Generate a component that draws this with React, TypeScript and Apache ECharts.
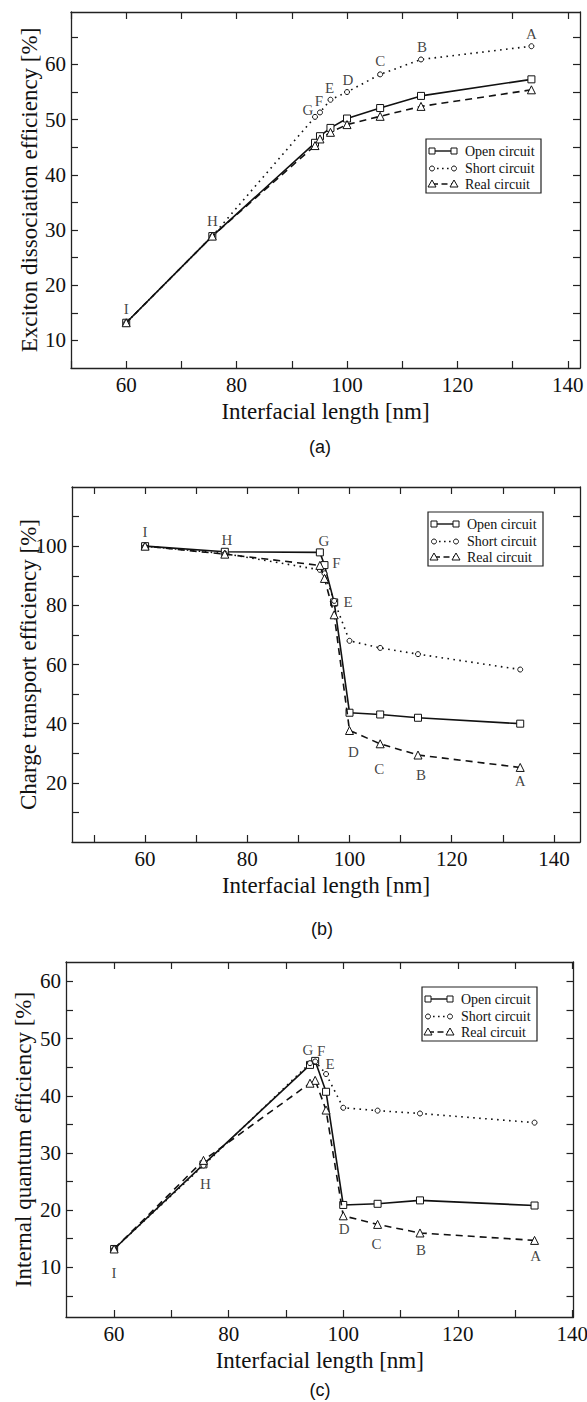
import React, { useEffect, useRef } from "react";
import * as echarts from "echarts";

// ---- data ----
const pointLetters = ["A", "B", "C", "D", "E", "F", "G", "H", "I"];
const interfacialLength = [133.4, 113.4, 106, 100, 97, 95.1, 94.2, 75.6, 60];

const seriesNames = ["Open circuit", "Short circuit", "Real circuit"];

// (a) exciton dissociation efficiency [%]
const dissocOpen = [57.3, 54.3, 52.1, 50.2, 48.5, 47.0, 45.8, 28.9, 13.2];
const dissocShort = [63.3, 60.9, 58.2, 55.0, 53.6, 51.3, 50.5, 28.9, 13.2];
const dissocReal = [55.4, 52.4, 50.6, 49.1, 47.7, 46.5, 45.3, 28.9, 13.2];

// (b) charge transport efficiency [%]
const transportOpen = [40.0, 42.0, 43.1, 43.7, 81.0, 93.6, 97.9, 98.1, 100];
const transportShort = [58.3, 63.5, 65.6, 68.0, 81.5, 90.8, 92.0, 97.5, 100];
const transportReal = [25.2, 29.4, 33.2, 37.7, 76.8, 89.1, 93.5, 97.3, 100];

// (c) internal quantum efficiency [%]
const iqeOpen = [20.8, 21.7, 21.1, 20.9, 40.7, 46.1, 45.4, 28.0, 13.2];
const iqeShort = [35.3, 36.9, 37.4, 37.9, 43.8, 46.0, 45.7, 27.8, 13.2];
const iqeReal = [14.7, 16.0, 17.5, 19.0, 37.5, 42.7, 42.2, 28.7, 13.2];

// ticks and labels
const xTicksAB = [50, 60, 70, 80, 90, 100, 110, 120, 130, 140];
const xTicksC = [60, 70, 80, 90, 100, 110, 120, 130, 140];
const xLabels = [60, 80, 100, 120, 140];
const yTicksA = [10, 15, 20, 25, 30, 35, 40, 45, 50, 55, 60, 65];
const yLabelsA = [10, 20, 30, 40, 50, 60];
const yTicksB = [10, 20, 30, 40, 50, 60, 70, 80, 90, 100, 110];
const yLabelsB = [20, 40, 60, 80, 100];
const yTicksC = [5, 10, 15, 20, 25, 30, 35, 40, 45, 50, 55, 60];
const yLabelsC = [10, 20, 30, 40, 50, 60];

const xTitle = "Interfacial length [nm]";
const yTitles = [
  "Exciton dissociation efficiency [%]",
  "Charge transport efficiency [%]",
  "Internal quantum efficiency [%]",
];
const captions = ["(a)", "(b)", "(c)"];

// ---- layout / style ----
const SERIF = "Liberation Serif";
const SANS = "Liberation Sans";
const INK = "#111";

const panels = [
  {
    grid: { left: 71, top: 12, width: 509, height: 356 },
    xRange: [50, 142.2],
    yRange: [5, 69.5],
    xTicks: xTicksAB,
    yTicks: yTicksA,
    yLabels: yLabelsA,
    yNameGap: 30,
    values: [dissocOpen, dissocShort, dissocReal],
    caption: [320, 447],
    legendBox: [426, 139],
    anchors: [1, 1, 1, 1, 1, 1, 1, 1, 1],
    offsets: [[0, -12], [1, -12], [0, -13], [1, -12], [-1, -12], [-1, -11], [-7, -7], [0, -15], [0, -14]],
  },
  {
    grid: { left: 72, top: 487, width: 508, height: 355 },
    xRange: [45.7, 145.1],
    yRange: [0, 120],
    xTicks: xTicksAB,
    yTicks: yTicksB,
    yLabels: yLabelsB,
    yNameGap: 32,
    values: [transportOpen, transportShort, transportReal],
    caption: [322, 929],
    legendBox: [428, 512],
    anchors: [2, 2, 2, 2, 0, 0, 0, 0, 0],
    offsets: [[0, 14], [3, 20], [-1, 25], [4, 22], [14, 0], [12, -2], [4, -11], [2, -12], [0, -14]],
  },
  {
    grid: { left: 66, top: 962, width: 507.5, height: 355 },
    xRange: [51.6, 140.2],
    yRange: [1.3, 63.4],
    xTicks: xTicksC,
    yTicks: yTicksC,
    yLabels: yLabelsC,
    yNameGap: 31,
    values: [iqeOpen, iqeShort, iqeReal],
    caption: [320, 1390],
    legendBox: [422, 987],
    anchors: [2, 2, 2, 2, 1, 0, 0, 0, 0],
    offsets: [[1, 16], [1, 17], [-1, 20], [1, 13], [4, -10], [6, -10], [-2, -15], [2, 20], [0, 24]],
  },
];

const seriesStyles = [
  { symbol: "rect", symbolSize: 7, lineType: "solid" as any, dash: null as any },
  { symbol: "circle", symbolSize: 5, lineType: [1.6, 4.4] as any, dash: [1.6, 3.4] },
  { symbol: "triangle", symbolSize: 8, lineType: [7, 5] as any, dash: [6, 3.5] },
];

function buildOption() {
  const grids: any[] = [];
  const xAxes: any[] = [];
  const yAxes: any[] = [];
  const series: any[] = [];
  const graphics: any[] = [];

  const labelText = { color: INK, fontFamily: SERIF, fontSize: 21 };
  const nameText = { color: INK, fontFamily: SERIF, fontSize: 23 };

  panels.forEach((p, gi) => {
    grids.push({ ...p.grid, containLabel: false, outerBoundsMode: "none" });
    const tickCommon = {
      show: true,
      inside: true,
      length: 7,
      lineStyle: { color: "#222", width: 1.2 },
    };
    const lineCommon = { show: true, onZero: false, lineStyle: { color: "#222", width: 1.3 } };
    xAxes.push({
      type: "value",
      gridIndex: gi,
      position: "bottom",
      min: p.xRange[0],
      max: p.xRange[1],
      axisLine: lineCommon,
      axisTick: { ...tickCommon, customValues: p.xTicks },
      axisLabel: {
        ...labelText,
        customValues: xLabels,
        margin: 6,
        formatter: (v: number) => String(Math.round(v)),
      },
      splitLine: { show: false },
      name: xTitle,
      nameLocation: "middle",
      nameGap: 32,
      nameMoveOverlap: false,
      nameTextStyle: nameText,
    });
    xAxes.push({
      type: "value",
      gridIndex: gi,
      position: "top",
      min: p.xRange[0],
      max: p.xRange[1],
      axisLine: lineCommon,
      axisTick: { ...tickCommon, customValues: p.xTicks },
      axisLabel: { show: false },
      splitLine: { show: false },
    });
    yAxes.push({
      type: "value",
      gridIndex: gi,
      position: "left",
      min: p.yRange[0],
      max: p.yRange[1],
      axisLine: lineCommon,
      axisTick: { ...tickCommon, customValues: p.yTicks },
      axisLabel: {
        ...labelText,
        customValues: p.yLabels,
        margin: 5,
        formatter: (v: number) => String(Math.round(v)),
      },
      splitLine: { show: false },
      name: yTitles[gi],
      nameLocation: "middle",
      nameGap: p.yNameGap,
      nameMoveOverlap: false,
      nameTextStyle: nameText,
    });
    yAxes.push({
      type: "value",
      gridIndex: gi,
      position: "right",
      min: p.yRange[0],
      max: p.yRange[1],
      axisLine: lineCommon,
      axisTick: { ...tickCommon, customValues: p.yTicks },
      axisLabel: { show: false },
      splitLine: { show: false },
    });

    const xIdx = gi * 2;
    const yIdx = gi * 2;
    p.values.forEach((vals, si) => {
      const st = seriesStyles[si];
      series.push({
        type: "line",
        name: seriesNames[si],
        xAxisIndex: xIdx,
        yAxisIndex: yIdx,
        data: interfacialLength.map((x, i) => [x, vals[i]]),
        symbol: st.symbol,
        symbolSize: st.symbolSize,
        showSymbol: true,
        lineStyle: { color: INK, width: 1.6, type: st.lineType },
        itemStyle: { color: "#fff", borderColor: INK, borderWidth: 1 },
        z: 3 + si,
        silent: true,
      });
    });
    series.push({
      type: "scatter",
      name: "labels" + gi,
      xAxisIndex: xIdx,
      yAxisIndex: yIdx,
      symbolSize: 1,
      itemStyle: { color: "rgba(0,0,0,0)" },
      silent: true,
      z: 10,
      data: pointLetters.map((l, i) => ({
        name: l,
        value: [interfacialLength[i], p.values[p.anchors[i]][i]],
        label: { offset: p.offsets[i] },
      })),
      label: {
        show: true,
        position: "inside",
        formatter: "{b}",
        color: INK,
        fontFamily: SERIF,
        fontSize: 15,
      },
    });

    graphics.push({
      type: "text",
      x: p.caption[0],
      y: p.caption[1],
      style: {
        text: captions[gi],
        fill: INK,
        fontFamily: SANS,
        fontSize: 18,
        textAlign: "center",
        textVerticalAlign: "middle",
        align: "center",
        verticalAlign: "middle",
      },
    });

    const rows = [12, 29.5, 45];
    const children: any[] = [
      {
        type: "rect",
        shape: { x: 0, y: 0, width: 115, height: 54 },
        style: { fill: "#fff", stroke: "#222", lineWidth: 1.2 },
      },
    ];
    seriesNames.forEach((nm, si) => {
      const cy = rows[si];
      const st = seriesStyles[si];
      children.push({
        type: "line",
        shape: { x1: 6, y1: cy, x2: 28, y2: cy },
        style: { stroke: INK, lineWidth: 1.4, lineDash: st.dash },
      });
      [6, 28].forEach((cx) => {
        if (si === 0) {
          children.push({
            type: "rect",
            shape: { x: cx - 3, y: cy - 3, width: 6, height: 6 },
            style: { fill: "#fff", stroke: INK, lineWidth: 1 },
          });
        } else if (si === 1) {
          children.push({
            type: "circle",
            shape: { cx, cy, r: 2.5 },
            style: { fill: "#fff", stroke: INK, lineWidth: 1 },
          });
        } else {
          children.push({
            type: "polygon",
            shape: { points: [[cx, cy - 4], [cx + 4, cy + 3], [cx - 4, cy + 3]] },
            style: { fill: "#fff", stroke: INK, lineWidth: 1 },
          });
        }
      });
      children.push({
        type: "text",
        x: 39,
        y: cy,
        style: {
          text: nm,
          fill: INK,
          fontFamily: SERIF,
          fontSize: 14,
          textVerticalAlign: "middle",
          verticalAlign: "middle",
        },
      });
    });
    graphics.push({
      type: "group",
      x: p.legendBox[0],
      y: p.legendBox[1],
      z: 50,
      children,
    });
  });

  return {
    animation: false,
    backgroundColor: "#fff",
    textStyle: { fontFamily: SERIF, color: INK },
    grid: grids,
    xAxis: xAxes,
    yAxis: yAxes,
    series,
    graphic: graphics,
  };
}

export default function App() {
  const ref = useRef<HTMLDivElement>(null);
  useEffect(() => {
    document.body.style.margin = "0";
    if (!ref.current) return;
    const chart = echarts.init(ref.current, null, { renderer: "svg" });
    chart.setOption(buildOption() as any);
    return () => chart.dispose();
  }, []);
  return <div ref={ref} style={{ width: 587, height: 1402 }} />;
}
